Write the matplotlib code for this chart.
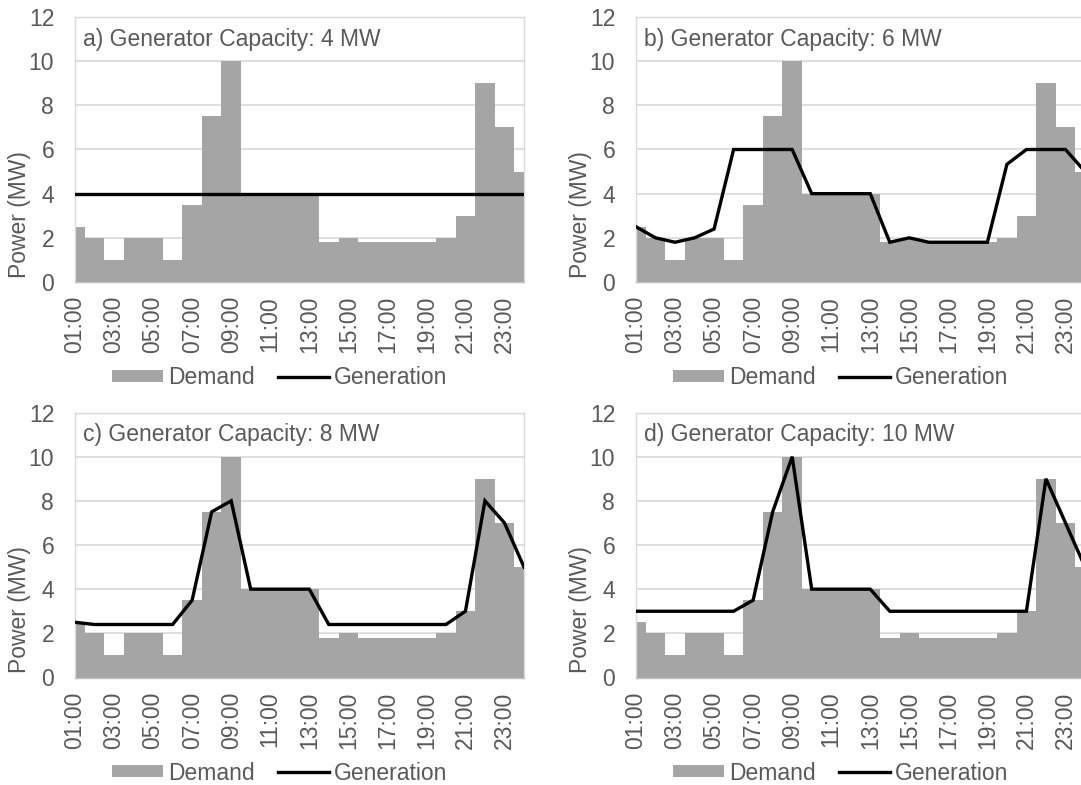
import matplotlib
matplotlib.use("Agg")
import matplotlib.pyplot as plt
from matplotlib.patches import Patch
from matplotlib.lines import Line2D
import numpy as np

plt.rcParams['font.family'] = ['Liberation Sans', 'DejaVu Sans']

# hourly data, 01:00 .. 24:00
hours = ["%02d:00" % h for h in range(1, 25)]
demand = [2.5, 2, 1, 2, 2, 1, 3.5, 7.5, 10, 4, 4, 4, 4,
          1.8, 2, 1.8, 1.8, 1.8, 1.8, 2, 3, 9, 7, 5]

gen_4mw = [4] * 24
gen_6mw = [2.5, 2.0, 1.8, 2.0, 2.4, 6, 6, 6, 6, 4, 4, 4, 4,
           1.8, 2.0, 1.8, 1.8, 1.8, 1.8, 5.33, 6, 6, 6, 5]
gen_8mw = [2.5, 2.4, 2.4, 2.4, 2.4, 2.4, 3.5, 7.5, 8, 4, 4, 4, 4,
           2.4, 2.4, 2.4, 2.4, 2.4, 2.4, 2.4, 3, 8, 7, 5]
gen_10mw = [3, 3, 3, 3, 3, 3, 3.5, 7.5, 10, 4, 4, 4, 4,
            3, 3, 3, 3, 3, 3, 3, 3, 9, 7, 5]

titles = ["a) Generator Capacity: 4 MW", "b) Generator Capacity: 6 MW",
          "c) Generator Capacity: 8 MW", "d) Generator Capacity: 10 MW"]
generation = [gen_4mw, gen_6mw, gen_8mw, gen_10mw]

text_col = '#595959'
bar_col = '#a5a5a5'
grid_col = '#d9d9d9'
fs = 16.5

fig = plt.figure(figsize=(10.81, 7.85), dpi=100)

# axes boxes in pixels: left, top
W, H = 1081, 785
boxes = [(75, 17), (636, 17), (75, 412.5), (636, 412.5)]
aw, ah = 449, 265
legend_centers = [(280, 378), (841, 378), (280, 773), (841, 773)]

x = np.arange(24)
for i in range(4):
    l, t = boxes[i]
    ax = fig.add_axes([l / W, 1 - (t + ah) / H, aw / W, ah / H])
    ax.bar(x, demand, width=1.0, color=bar_col, zorder=2)
    ax.plot(x, generation[i], color='black', lw=2.4, zorder=3,
            solid_joinstyle='miter')
    ax.set_xlim(0, 23)
    ax.set_ylim(0, 12)
    ax.set_yticks(range(0, 13, 2))
    ax.set_xticks(x[::2])
    ax.set_xticklabels(hours[::2], rotation=90)
    ax.tick_params(axis='both', length=0, labelsize=fs, labelcolor=text_col)
    ax.tick_params(axis='y', pad=15)
    ax.tick_params(axis='x', pad=10)
    ax.grid(axis='y', color=grid_col, lw=1.2, zorder=0)
    ax.set_axisbelow(True)
    for s in ax.spines.values():
        s.set_color(grid_col)
        s.set_linewidth(1.0)
    ax.spines['bottom'].set_color('#bfbfbf')
    ax.set_ylabel("Power (MW)", fontsize=fs, color=text_col)
    ax.yaxis.set_label_coords(-0.097, 0.255)
    ax.text(0.018, 11, titles[i], fontsize=fs, color=text_col,
            ha='left', va='center', transform=ax.get_yaxis_transform())
    handles = [Patch(facecolor=bar_col, edgecolor='none'),
               Line2D([0], [0], color='black', lw=2.4)]
    cx, cy = legend_centers[i]
    ax.legend(handles, ["Demand", "Generation"], loc='center', ncol=2,
              bbox_to_anchor=(cx / W, 1 - cy / H), bbox_transform=fig.transFigure,
              frameon=False, fontsize=fs, labelcolor=text_col,
              handlelength=2.2, handleheight=0.45, handletextpad=0.25,
              columnspacing=1.0, borderpad=0)

fig.savefig("out.png", dpi=100)
